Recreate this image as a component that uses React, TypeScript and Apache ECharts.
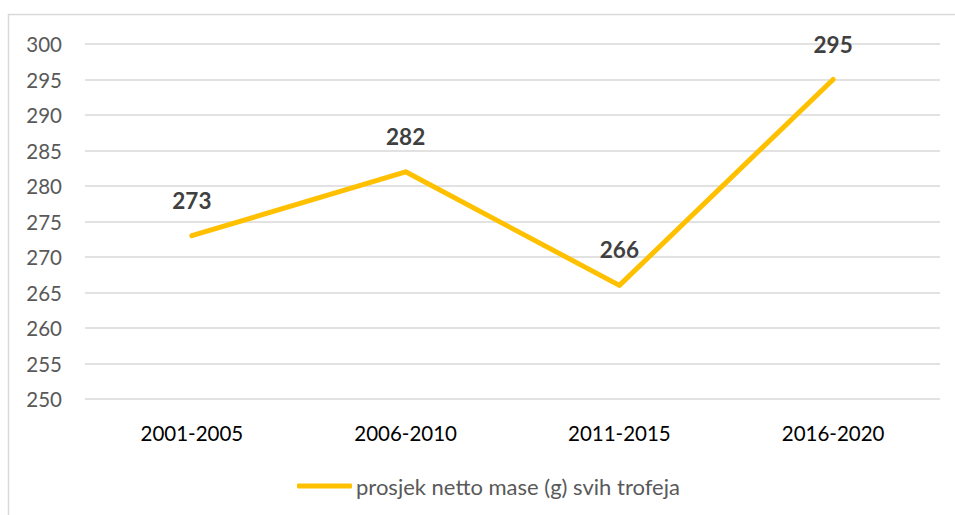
import React, { useEffect, useRef } from "react";
import * as echarts from "echarts";

const categories = ["2001-2005", "2006-2010", "2011-2015", "2016-2020"];
const values = [273, 282, 266, 295];
const seriesName = "prosjek netto mase (g) svih trofeja";

export default function App() {
  const ref = useRef<HTMLDivElement>(null);
  useEffect(() => {
    if (!ref.current) return;
    const chart = echarts.init(ref.current, undefined, { renderer: "svg" });
    const font = "Lato, 'Open Sans', sans-serif";
    chart.setOption({
      animation: false,
      textStyle: { fontFamily: font },
      graphic: [
        {
          type: "rect",
          shape: { x: 8.5, y: 14.5, width: 960, height: 520 },
          style: { fill: "none", stroke: "#d9d9d9", lineWidth: 1.5 },
          silent: true,
        },
      ],
      grid: { left: 85, right: 15, top: 44, bottom: 116 },
      xAxis: {
        type: "category",
        data: categories,
        boundaryGap: true,
        axisLine: { show: false },
        axisTick: { show: false },
        axisLabel: { color: "#000000", fontSize: 20.5, margin: 23, fontFamily: font },
      },
      yAxis: {
        type: "value",
        min: 250,
        max: 300,
        interval: 5,
        axisLine: { show: false },
        axisTick: { show: false },
        axisLabel: { color: "#595959", fontSize: 20.5, margin: 23, fontFamily: font },
        splitLine: { lineStyle: { color: "#d9d9d9", width: 1.5 } },
      },
      legend: {
        data: [seriesName],
        left: 292,
        top: 470,
        icon: "roundRect",
        itemWidth: 55,
        itemHeight: 5,
        itemGap: 10,
        textStyle: { color: "#595959", fontSize: 22, fontFamily: font, padding: [0, 0, 0, -1] },
      },
      series: [
        {
          name: seriesName,
          type: "line",
          data: values,
          symbol: "circle",
          symbolSize: 4,
          lineStyle: { color: "#FFC000", width: 5, cap: "round", join: "round" },
          itemStyle: { color: "#FFC000" },
          label: {
            show: true,
            position: "top",
            distance: 22,
            color: "#404040",
            fontSize: 22.5,
            fontWeight: "bold",
            fontFamily: font,
          },
        },
      ],
    });
    return () => chart.dispose();
  }, []);
  return (
    <div style={{ position: "fixed", left: 0, top: 0, width: 955, height: 515, background: "#fff" }}>
      <div ref={ref} style={{ width: 955, height: 515 }} />
    </div>
  );
}
